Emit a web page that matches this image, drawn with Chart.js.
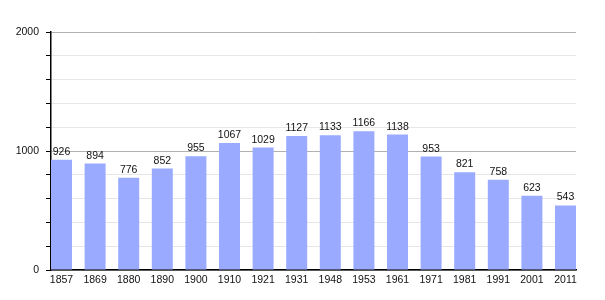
<!DOCTYPE html>
<html>
<head>
<meta charset="utf-8">
<script src="https://cdn.jsdelivr.net/npm/chart.js@4/dist/chart.umd.min.js"></script>
<style>
  html, body { margin: 0; padding: 0; background: #fff; }
  #wrap { width: 605px; height: 300px; }
</style>
</head>
<body>
<div id="wrap"><canvas id="chart" width="605" height="300"></canvas></div>
<script>
const years = ["1857", "1869", "1880", "1890", "1900", "1910", "1921", "1931",
  "1948", "1953", "1961", "1971", "1981", "1991", "2001", "2011"];
const population = [926, 894, 776, 852, 955, 1067, 1029, 1127,
  1133, 1166, 1138, 953, 821, 758, 623, 543];

const FONT = "'Liberation Sans', Arial, sans-serif";
const HALF = 0.3125; // half a bar, in index units, so bars touch the axis ends

// value labels above each bar
const barLabels = {
  id: "barLabels",
  afterDatasetsDraw(chart) {
    const ctx = chart.ctx;
    const meta = chart.getDatasetMeta(0);
    ctx.save();
    ctx.font = "10.5px " + FONT;
    ctx.fillStyle = "#111";
    ctx.textAlign = "center";
    ctx.textBaseline = "alphabetic";
    meta.data.forEach((bar, i) => {
      ctx.fillText(population[i], bar.x, bar.y - 5);
    });
    ctx.restore();
  }
};

new Chart(document.getElementById("chart").getContext("2d"), {
  type: "bar",
  data: {
    datasets: [{
      data: population.map((v, i) => ({ x: i, y: v })),
      backgroundColor: "#99aaff",
      borderWidth: 0,
      barPercentage: 0.625,
      categoryPercentage: 1
    }]
  },
  options: {
    responsive: false,
    animation: false,
    layout: { padding: { top: 32, right: 29, left: 0, bottom: 0 } },
    plugins: { legend: { display: false }, tooltip: { enabled: false } },
    scales: {
      x: {
        type: "linear",
        offset: false,
        min: -HALF,
        max: years.length - 1 + HALF,
        grid: { display: false, drawTicks: false },
        border: { color: "#000", width: 1.5 },
        ticks: {
          stepSize: 1,
          includeBounds: false,
          color: "#111",
          font: { family: FONT, size: 10.5 },
          padding: 4,
          maxRotation: 0,
          autoSkip: false,
          callback: v => years[v] ?? ""
        },
        afterFit: s => { s.height = 30; }
      },
      y: {
        min: 0,
        max: 2000,
        border: { color: "#000", width: 1.5 },
        grid: {
          color: c => (c.tick.value % 1000 === 0 ? "#b0b0b0" : "#e6e6e6"),
          tickColor: "#000",
          tickLength: 5,
          lineWidth: 1
        },
        ticks: {
          stepSize: 200,
          color: "#111",
          font: { family: FONT, size: 10.5 },
          padding: 7,
          callback: v => (v % 1000 === 0 ? v : "")
        },
        afterFit: s => { s.width = 51; }
      }
    }
  },
  plugins: [barLabels]
});
</script>
</body>
</html>
